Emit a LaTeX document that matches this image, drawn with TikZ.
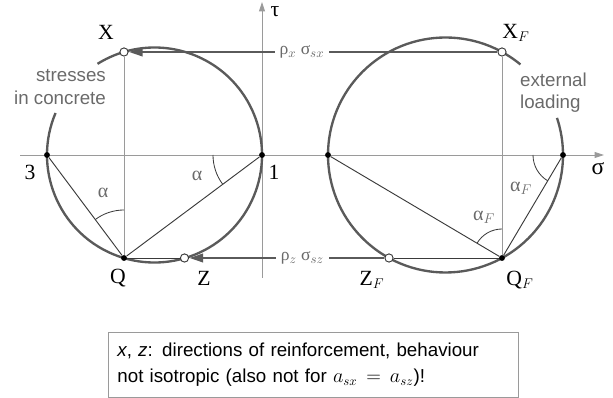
\documentclass[tikz,border=0pt]{standalone}
\usepackage{fontspec}
\setmainfont{Liberation Serif}
\setsansfont{Liberation Sans}
\usepackage{tikz}
\usetikzlibrary{arrows.meta,angles,calc}

\definecolor{circgray}{HTML}{5A5A5A}
\definecolor{thingray}{HTML}{9A9A9A}
\definecolor{chordgray}{HTML}{3A3A3A}
\definecolor{labgray}{HTML}{6A6A6A}

\tikzset{
  mohr/.style={line width=2pt, draw=circgray},
  axisline/.style={line width=0.7pt, draw=thingray},
  chord/.style={line width=0.8pt, draw=chordgray},
  force/.style={line width=2.5pt, draw=circgray, -{Triangle[length=12pt,width=7pt]}},
  dot/.style={circle, fill=black, inner sep=0pt, minimum size=5pt},
  opendot/.style={circle, draw=chordgray, fill=white, line width=0.8pt, inner sep=0pt, minimum size=7pt},
  ptlabel/.style={font=\fontsize{18.5}{20}\selectfont},
  anglab/.style={text=labgray, font=\fontsize{17}{19}\selectfont},
  anglearc/.style={draw=chordgray, line width=0.7pt},
  remark/.style={text=labgray, font=\sffamily\fontsize{16}{19}\selectfont}
}

\begin{document}
\begin{tikzpicture}[x=0.03cm, y=0.03cm]
  \useasboundingbox (0,0) rectangle (613,398);

  % axes
  \coordinate (sigL) at (20,243);
  \coordinate (sigR) at (604,243);
  \coordinate (tauB) at (262,120);
  \coordinate (tauT) at (262,396);
  \draw[axisline, -{Triangle[length=8pt,width=5pt]}, draw=thingray] (sigL) -- (sigR);
  \draw[axisline, -{Triangle[length=8pt,width=5pt]}, draw=thingray] (tauB) -- (tauT);
  \node[ptlabel, font=\fontsize{20}{22}\selectfont, inner sep=0pt] at (598,229) {σ};
  \node[ptlabel, inner sep=0pt] at (275,386) {τ};

  % Stresses in concrete
  \begin{scope}
    \draw[mohr] (154.5,243) ++(157:107.5) arc[start angle=157, end angle=482, radius=107.5];
    \node[dot] (s3) at (47,243) {};
    \node[dot] (s1) at (262,243) {};
    \node[dot] (Q) at (124,140) {};
    \node[opendot] (X) at (124,346) {};
    \node[opendot] (Z) at (184.5,140) {};
    \draw[axisline] (X) -- (Q);
    \draw[axisline, draw=chordgray] (Q) -- (Z);
    \draw[chord] (s3) -- (Q);
    \draw[chord] (s1) -- (Q);
    \pic[anglearc, angle radius=1.44cm] {angle = X--Q--s3};
    \pic[anglearc, angle radius=1.47cm] {angle = s3--s1--Q};
    \node[anglab] at (103,205) {α};
    \node[anglab] at (197,222) {α};
    \node[ptlabel] at (106,366) {X};
    \node[ptlabel] at (30,226) {3};
    \node[ptlabel] at (274,226) {1};
    \node[ptlabel] at (118,120) {Q};
    \node[ptlabel] at (204,120) {Z};
    \node[remark, align=right, anchor=east] at (110,311) {stresses\\in concrete};
  \end{scope}

  % External loading
  \begin{scope}
    \draw[mohr] (445.5,243) ++(50.4:117.5) arc[start angle=50.4, end angle=378.4, radius=117.5];
    \node[dot] (s3F) at (328,243) {};
    \node[dot] (s1F) at (563,243) {};
    \node[dot] (QF) at (502,140) {};
    \node[opendot] (XF) at (502,346) {};
    \node[opendot] (ZF) at (389,140) {};
    \draw[axisline] (XF) -- (QF);
    \draw[axisline, draw=chordgray] (ZF) -- (QF);
    \draw[chord] (s3F) -- (QF);
    \draw[chord] (s1F) -- (QF);
    \pic[anglearc, angle radius=0.87cm] {angle = XF--QF--s3F};
    \pic[anglearc, angle radius=0.9cm] {angle = s3F--s1F--QF};
    \node[anglab] at (484,181) {α$_F$};
    \node[anglab] at (521,210) {α$_F$};
    \node[ptlabel] at (516,365) {X$_F$};
    \node[ptlabel] at (372,118) {Z$_F$};
    \node[ptlabel] at (520,118) {Q$_F$};
    \node[remark, align=left, anchor=west] at (516,305) {external\\loading};
  \end{scope}

  % forces in reinforcement
  \draw[force] (XF) -- node[pos=0.53, fill=white, text=labgray, inner xsep=4pt,
    font=\fontsize{15}{17}\selectfont] {ρ$_x$ σ$_{sx}$} (X);
  \draw[force] (ZF) -- node[pos=0.42, fill=white, text=labgray, inner xsep=4pt,
    font=\fontsize{15}{17}\selectfont] {ρ$_z$ σ$_{sz}$} (Z);

  % note
  \node[draw=thingray, line width=0.7pt, anchor=north west, minimum width=12.3cm,
    minimum height=1.95cm, text width=11.76cm, inner xsep=0.27cm, align=left,
    font=\sffamily\fontsize{16}{22}\selectfont] (note) at (108,66)
    {\textit{x}, \textit{z}: directions of reinforcement, behaviour\\
     not isotropic (also not for $a_{sx}\,=\,a_{sz}$)!};
\end{tikzpicture}
\end{document}
